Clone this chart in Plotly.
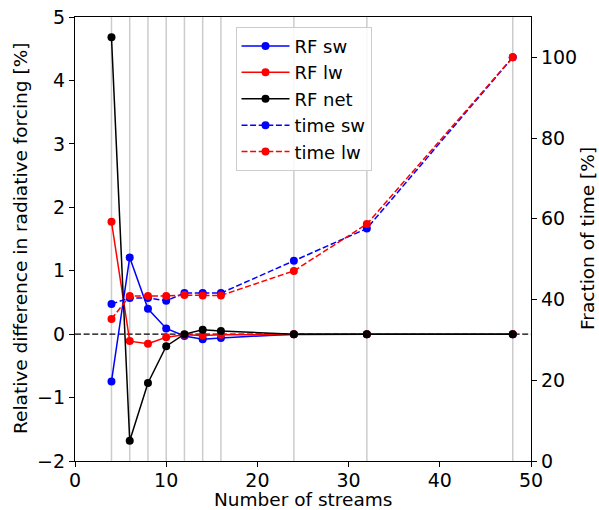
import plotly.graph_objects as go

streams = [4, 6, 8, 10, 12, 14, 16, 24, 32, 48]
rf_sw = [-0.745, 1.21, 0.40, 0.09, -0.03, -0.08, -0.06, 0.0, 0.0, 0.0]
rf_lw = [1.77, -0.11, -0.15, -0.05, -0.01, -0.02, -0.01, 0.0, 0.0, 0.0]
rf_net = [4.68, -1.68, -0.77, -0.19, 0.0, 0.07, 0.05, 0.0, 0.0, 0.0]
time_sw = [38.9, 40.4, 40.4, 39.7, 41.6, 41.6, 41.6, 49.6, 57.6, 100.0]
time_lw = [35.2, 40.9, 40.9, 40.9, 41.1, 41.0, 41.0, 47.1, 58.7, 100.0]

x_title = "Number of streams"
y_title = "Relative difference in radiative forcing [%]"
y2_title = "Fraction of time [%]"

FONT = "DejaVu Sans"
DASH = "6px,2.6px"

fig = go.Figure()

def add(y, name, color, dash, axis):
    fig.add_trace(go.Scatter(
        x=streams, y=y, name=name, mode="lines+markers", yaxis=axis,
        line=dict(color=color, width=1.5, dash=dash),
        marker=dict(color=color, size=8),
    ))

add(rf_sw, "RF sw", "#0000ff", "solid", "y")
add(rf_lw, "RF lw", "#ff0000", "solid", "y")
add(rf_net, "RF net", "#000000", "solid", "y")
add(time_sw, "time sw", "#0000ff", DASH, "y2")
add(time_lw, "time lw", "#ff0000", DASH, "y2")

for s in streams:
    fig.add_shape(type="line", xref="x", yref="paper", x0=s, x1=s, y0=0, y1=1,
                  line=dict(color="#cccccc", width=1.5), layer="below")
fig.add_shape(type="line", xref="paper", yref="y", x0=0, x1=1, y0=0, y1=0,
              line=dict(color="#000000", width=1.2, dash=DASH), layer="below")

axis_common = dict(showgrid=False, zeroline=False, showline=True, linecolor="black",
                   linewidth=1.2, ticks="outside", ticklen=5, tickwidth=1.2, automargin=False,
                   tickcolor="black", tickfont=dict(family=FONT, size=19, color="black"))

tfont = dict(family=FONT, size=18.5, color="black")
fig.add_annotation(text=x_title, xref="paper", yref="paper", x=0.5, y=0,
                   xanchor="center", yanchor="middle", yshift=-38, showarrow=False,
                   font=tfont, borderpad=0)
fig.add_annotation(text=y_title, xref="paper", yref="paper", x=0, y=0.5,
                   xanchor="center", yanchor="middle", xshift=-55, textangle=-90,
                   showarrow=False, font=tfont, borderpad=0)
fig.add_annotation(text=y2_title, xref="paper", yref="paper", x=1, y=0.5,
                   xanchor="center", yanchor="middle", xshift=56, textangle=-90,
                   showarrow=False, font=tfont, borderpad=0)

fig.update_layout(
    width=599, height=510,
    margin=dict(l=75, r=68, t=17, b=49),
    plot_bgcolor="white", paper_bgcolor="white",
    font=dict(family=FONT, size=19, color="black"),
    showlegend=True,
    legend=dict(x=0.352, y=0.978, xanchor="left", yanchor="top", itemwidth=48,
                bgcolor="rgba(255,255,255,0.85)", bordercolor="#cccccc", borderwidth=1,
                font=dict(family=FONT, size=18, color="black")),
    xaxis=dict(range=[0, 50], tickvals=[0, 10, 20, 30, 40, 50], mirror=True,
               ticklabelstandoff=-3, **axis_common),
    yaxis=dict(range=[-2, 5], tickvals=[-2, -1, 0, 1, 2, 3, 4, 5], **axis_common),
    yaxis2=dict(range=[0, 110], tickvals=[0, 20, 40, 60, 80, 100], overlaying="y", side="right",
                **axis_common),
)

fig.write_html("out.html")
